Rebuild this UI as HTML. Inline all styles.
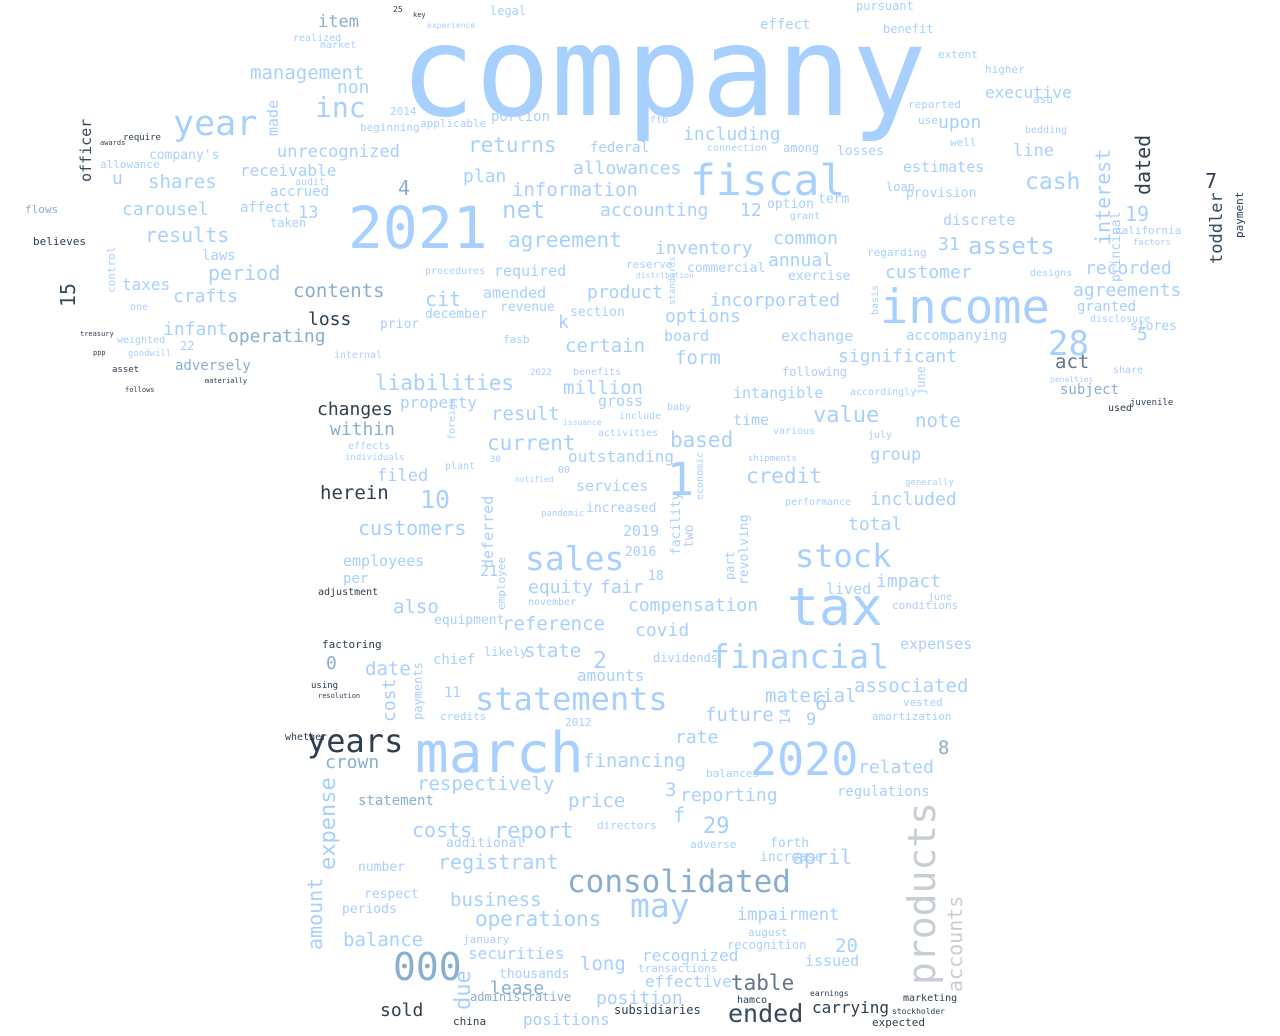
<!DOCTYPE html>
<html><head><meta charset="utf-8">
<style>
html,body{margin:0;padding:0;background:#fff;}
svg{display:block;}
text{font-family:"DejaVu Sans Mono","Liberation Mono",monospace;}
</style></head>
<body>
<svg id="cloud" width="1280" height="1036" viewBox="0 0 1280 1036"></svg>
<script>
// word, x, baseline y, font size, color key, vertical flag
const words = [
["company",400,115,125,"L",0],["2021",348,248,58,"L",0],["fiscal",690,195,43,"L",0],
["income",880,323,47,"L",0],["march",415,772,56,"L",0],["2020",750,775,45,"L",0],
["tax",787,625,53,"L",0],["years",307,752,32,"D",0],["statements",475,710,32,"L",0],
["financial",710,668,33,"L",0],["consolidated",567,892,31,"M",0],["sales",525,570,33,"L",0],
["stock",795,567,32,"L",0],["year",173,135,35,"L",0],["may",630,917,33,"L",0],
["000",393,980,38,"M",0],["products",935,985,38,"G",1],["1",667,495,45,"L",0],
["28",1048,355,34,"L",0],["inc",315,117,28,"L",0],["net",502,218,24,"L",0],
["agreement",508,247,21,"L",0],["assets",968,254,24,"L",0],["cash",1025,189,23,"L",0],
["ended",728,1022,25,"D2",0],["table",731,990,21,"S",0],["returns",468,152,21,"L",0],
["information",512,196,19,"L",0],["plan",463,182,18,"L",0],["accounting",600,216,18,"L",0],
["including",683,140,18,"L",0],["inventory",655,254,18,"L",0],["annual",768,266,18,"L",0],
["common",773,244,18,"L",0],["customer",885,278,18,"L",0],["recorded",1085,274,18,"L",0],
["agreements",1073,296,18,"L",0],["incorporated",710,306,18,"L",0],["options",665,322,18,"L",0],
["significant",838,362,18,"L",0],["product",587,298,18,"L",0],["amended",483,298,15,"L",0],
["cit",425,306,20,"L",0],["contents",293,297,19,"M",0],["loss",308,325,18,"D",0],
["operating",228,342,18,"M",0],["infant",163,335,18,"L",0],["crafts",173,302,18,"L",0],
["period",208,280,20,"L",0],["results",145,242,20,"L",0],["carousel",122,215,18,"L",0],
["shares",148,188,19,"L",0],["u",112,184,18,"L",0],["management",250,79,19,"L",0],
["item",318,27,17,"M",0],["non",337,93,18,"L",0],["unrecognized",277,157,17,"L",0],
["receivable",240,176,16,"L",0],["accrued",270,196,14,"L",0],["affect",240,212,14,"L",0],
["taxes",122,290,16,"L",0],["laws",202,260,14,"L",0],["4",398,195,20,"M",0],
["13",298,218,17,"L",0],["allowances",573,174,18,"L",0],["federal",590,152,14,"L",0],
["12",740,216,18,"L",0],["upon",938,128,18,"L",0],["executive",985,98,16,"L",0],
["line",1013,156,17,"L",0],["estimates",903,172,15,"L",0],["31",938,250,18,"L",0],
["19",1125,221,20,"L",0],["5",1137,340,18,"L",0],["7",1205,188,20,"D",0],
["act",1055,368,19,"S",0],["accompanying",906,340,14,"L",0],["exchange",781,341,15,"L",0],
["board",664,341,15,"L",0],["form",675,364,19,"L",0],["certain",565,352,19,"L",0],
["million",563,394,19,"L",0],["liabilities",375,390,21,"L",0],["changes",317,415,18,"D",0],
["within",330,435,18,"M",0],["property",400,408,16,"L",0],["result",491,420,19,"L",0],
["gross",598,406,15,"L",0],["current",487,450,21,"L",0],["value",813,422,22,"L",0],
["intangible",733,398,15,"L",0],["note",915,427,19,"L",0],["time",733,425,15,"L",0],
["based",670,447,21,"L",0],["herein",320,499,19,"D",0],["filed",377,481,17,"L",0],
["10",420,508,25,"L",0],["outstanding",568,462,16,"L",0],["credit",746,483,21,"L",0],
["group",870,460,17,"L",0],["included",870,505,18,"L",0],["customers",358,535,20,"L",0],
["services",576,491,15,"L",0],["increased",586,512,13,"L",0],["total",848,530,18,"L",0],
["2019",623,536,15,"L",0],["employees",343,566,15,"L",0],["per",343,583,14,"L",0],
["adjustment",318,595,10,"D",0],["equity",528,593,18,"L",0],["fair",600,593,18,"L",0],
["impact",876,587,18,"L",0],["also",393,613,19,"L",0],["compensation",628,611,18,"L",0],
["reference",502,630,19,"L",0],["covid",635,636,18,"L",0],["equipment",434,624,13,"L",0],
["lived",826,594,15,"L",0],["date",365,675,19,"L",0],["0",326,669,18,"M",0],
["state",524,657,19,"L",0],["2",593,668,23,"L",0],["chief",433,664,14,"L",0],
["amounts",577,681,16,"L",0],["expenses",900,649,15,"L",0],["associated",854,692,19,"L",0],
["material",765,702,19,"L",0],["6",815,710,20,"L",0],["future",705,721,19,"L",0],
["9",806,725,17,"L",0],["8",938,754,19,"M",0],["rate",675,743,18,"L",0],
["crown",325,768,18,"M",0],["financing",583,767,19,"L",0],["related",858,773,18,"L",0],
["respectively",417,790,19,"L",0],["3",665,796,19,"L",0],["reporting",680,801,18,"L",0],
["price",568,807,19,"L",0],["regulations",837,796,14,"L",0],["statement",358,805,14,"M",0],
["costs",412,837,20,"L",0],["report",494,838,22,"L",0],["f",673,822,20,"L",0],
["29",703,833,22,"L",0],["registrant",438,869,20,"L",0],["april",792,864,20,"L",0],
["business",450,906,19,"L",0],["operations",475,926,21,"L",0],["impairment",737,920,17,"L",0],
["balance",343,946,19,"L",0],["20",835,952,19,"L",0],["recognized",642,961,16,"L",0],
["long",580,970,19,"L",0],["securities",468,959,16,"L",0],["effective",645,987,16,"L",0],
["lease",490,994,18,"M",0],["position",596,1004,18,"L",0],["sold",380,1016,18,"D",0],
["positions",523,1025,16,"L",0],["carrying",812,1013,16,"D",0],["issued",805,966,15,"L",0],
["expense",335,870,22,"L",1],["amount",322,950,20,"L",1],["accounts",962,992,20,"G",1],
["dated",1150,195,20,"D",1],["toddler",1222,264,17,"D2",1],["interest",1110,245,20,"L",1],
["15",75,307,20,"D2",1],["officer",91,182,15,"D2",1],["cost",395,722,18,"L",1],
["due",470,1010,22,"L",1],["deferred",493,568,15,"L",1],["made",278,136,15,"L",1],
["payment",1243,238,11,"D",1],["principal",1120,282,13,"L",1],["believes",33,245,11,"D",0],
["flows",25,213,11,"M",0],["factoring",322,648,11,"D",0],["subject",1060,394,14,"M",0],
["used",1108,411,10,"D",0],["juvenile",1130,405,9,"D",0],["stores",1130,330,13,"L",0],
["granted",1077,311,14,"L",0],["effect",760,29,14,"L",0],["pursuant",856,10,12,"L",0],
["benefit",883,33,12,"L",0],["legal",490,15,12,"L",0],["portion",491,121,14,"L",0],
["provision",906,197,13,"L",0],["discrete",943,225,15,"L",0],["loan",886,191,12,"L",0],
["option",767,208,13,"L",0],["term",818,203,13,"L",0],["losses",837,155,13,"L",0],
["among",783,152,12,"L",0],["exercise",788,280,13,"L",0],["commercial",687,272,13,"L",0],
["required",494,276,15,"L",0],["k",558,328,18,"L",0],["prior",380,328,13,"L",0],
["december",425,318,13,"L",0],["revenue",500,311,13,"L",0],["section",570,316,13,"L",0],
["adversely",175,370,14,"M",0],["22",180,350,12,"L",0],["allowance",100,168,11,"L",0],
["company's",149,159,13,"L",0],["following",782,376,12,"L",0],["accordingly",850,395,10,"L",0],
["june",925,395,12,"L",1],["july",868,438,10,"L",0],["performance",785,505,10,"L",0],
["revolving",748,585,13,"L",1],["facility",680,555,13,"L",1],["two",693,548,13,"L",1],
["part",734,580,12,"L",1],["21",480,576,15,"L",0],["18",648,580,13,"L",0],
["2016",625,556,13,"L",0],["november",528,605,10,"L",0],["likely",484,656,12,"L",0],
["dividends",653,662,12,"L",0],["11",444,697,14,"L",0],["credits",440,720,11,"L",0],
["2012",565,726,11,"L",0],["payments",422,720,12,"L",1],["14",790,725,14,"L",1],
["amortization",872,720,11,"L",0],["vested",903,706,11,"L",0],["balances",706,777,11,"L",0],
["directors",597,829,11,"L",0],["forth",770,847,13,"L",0],["increase",760,861,13,"L",0],
["adverse",690,848,11,"L",0],["additional",446,847,13,"L",0],["number",358,871,13,"L",0],
["respect",364,898,13,"L",0],["periods",342,913,13,"L",0],["january",463,943,11,"L",0],
["thousands",499,978,13,"L",0],["administrative",470,1001,12,"M",0],["china",453,1025,11,"D",0],
["subsidiaries",614,1014,12,"D",0],["hamco",737,1003,10,"D",0],["marketing",903,1001,10,"D",0],
["expected",872,1026,11,"D",0],["transactions",638,972,11,"L",0],["august",748,936,11,"L",0],
["recognition",727,949,12,"L",0],["conditions",892,609,11,"L",0],["june",928,600,10,"L",0],
["whether",285,740,10,"D",0],["using",311,688,9,"D",0],["resolution",318,698,7,"D",0],
["asset",112,372,9,"D",0],["weighted",117,343,10,"L",0],["one",130,310,10,"L",0],
["extent",938,58,11,"L",0],["higher",985,73,11,"L",0],["reported",908,108,11,"L",0],
["well",950,146,11,"L",0],["use",918,124,11,"L",0],["bedding",1025,133,10,"L",0],
["asu",1033,103,11,"L",0],["california",1115,234,11,"L",0],["factors",1133,245,9,"L",0],
["designs",1030,276,10,"L",0],["disclosure",1090,322,10,"L",0],["regarding",867,256,11,"L",0],
["basis",878,315,10,"L",1],["share",1113,373,10,"L",0],["generally",905,485,9,"L",0],
["market",320,48,10,"L",0],["realized",293,41,10,"L",0],["beginning",360,131,11,"L",0],
["2014",390,115,11,"L",0],["applicable",420,127,11,"L",0],["ftb",650,123,10,"L",0],
["connection",707,151,10,"L",0],["grant",790,219,10,"L",0],["reserve",626,268,11,"L",0],
["experience",427,28,8,"L",0],["key",413,17,7,"D",0],["25",393,12,8,"D",0],
["require",123,140,9,"D",0],["awards",100,145,7,"D",0],["treasury",80,336,7,"D",0],
["ppp",93,355,7,"D",0],["follows",125,392,7,"D",0],["materially",205,383,7,"D",0],
["goodwill",128,356,9,"L",0],["control",115,293,11,"L",1],["audit",295,185,10,"L",0],
["taken",270,227,12,"L",0],["internal",334,358,10,"L",0],["effects",348,449,10,"L",0],
["individuals",345,460,9,"L",0],["plant",445,469,10,"L",0],["foreign",455,440,10,"L",1],
["00",558,473,10,"L",0],["30",490,462,9,"L",0],["pandemic",541,516,9,"L",0],
["notified",515,482,8,"L",0],["benefits",573,375,10,"L",0],["2022",530,375,9,"L",0],
["activities",598,436,10,"L",0],["include",619,419,10,"L",0],["issuance",563,425,8,"L",0],
["baby",667,410,10,"L",0],["economic",703,500,10,"L",1],["employee",505,610,11,"L",1],
["shipments",748,461,9,"L",0],["various",773,434,10,"L",0],["fasb",503,343,11,"L",0],
["standards",675,305,9,"L",1],["distribution",636,278,8,"L",0],["procedures",425,274,10,"L",0],
["penalties",1050,382,8,"L",0],["stockholder",892,1014,8,"D",0],["earnings",810,996,8,"D",0]
];
const colorKeys = ["L","M","S","D","D2","G"];
const colorVals = ["#a8d0ff","#8aaed0","#5e7590","#2c3e50","#34495e","#c8ced6"];

const svg = document.getElementById('cloud');
const NS = 'http://www.w3.org/2000/svg';
words.forEach(function(w){
  const t = document.createElementNS(NS,'text');
  t.textContent = w[0];
  t.setAttribute('x', w[1]);
  t.setAttribute('y', w[2]);
  t.setAttribute('font-size', w[3]);
  t.setAttribute('fill', colorVals[colorKeys.indexOf(w[4])]);
  if (w[5]) t.setAttribute('transform','rotate(-90 '+w[1]+' '+w[2]+')');
  
  
  svg.appendChild(t);
});
</script>
</body></html>
